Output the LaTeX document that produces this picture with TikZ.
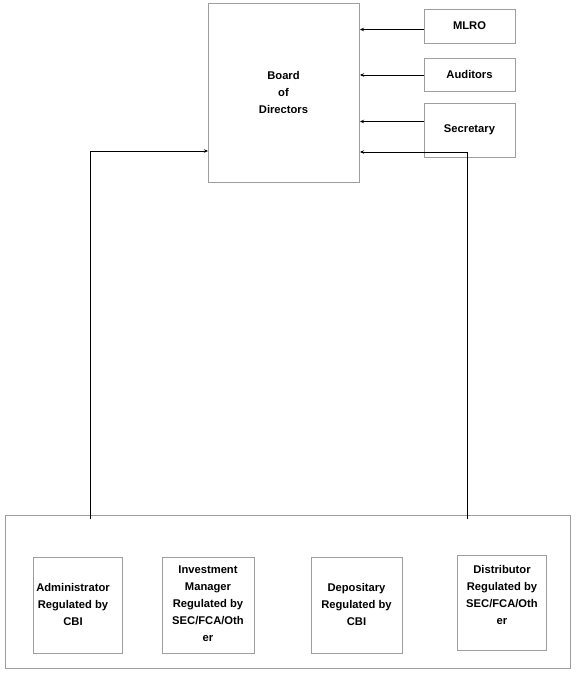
\documentclass[tikz,border=0pt]{standalone}
\usepackage{fontspec}
\setmainfont{Liberation Sans}
\usetikzlibrary{arrows.meta}
\begin{document}
\begin{tikzpicture}[x=1pt,y=-1pt,
  box/.style={draw=black!38, line width=1pt, fill=white, inner sep=0pt, align=center,
    font=\fontsize{11.2}{17}\selectfont\bfseries},
  txt/.style={inner sep=0pt, align=center, font=\fontsize{11.2}{17}\selectfont\bfseries},
  conn/.style={draw=black, line width=0.8pt},
  arr/.style={conn, -{Stealth[length=4pt,width=3.5pt]}}]
\useasboundingbox (0,0) rectangle (576,675);
% outer group box
\node[box, minimum width=565, minimum height=153, anchor=north west] (group) at (5,515) {};
% board
\node[box, minimum width=151, minimum height=179, anchor=north west] (board) at (208,3) {};
\node[txt] (boardt) at (283.5,92) {Board\\of\\Directors};
% right boxes
\node[box, minimum width=91, minimum height=34, anchor=north west] (mlro) at (424,9) {};
\node[txt] (mlrot) at (469.5,26) {MLRO};
\node[box, minimum width=91, minimum height=33, anchor=north west] (aud) at (424,58) {};
\node[txt] (audt) at (469.5,74) {Auditors};
\node[box, minimum width=91, minimum height=54, anchor=north west] (sec) at (424,103) {};
\node[txt] (sect) at (469.5,130) {Secretary};
% bottom boxes
\node[box, minimum width=89, minimum height=96, anchor=north west] (adm) at (33,557) {};
\node[txt] (admt) at (73,604) {Administrator\\Regulated by\\CBI};
\node[box, minimum width=92, minimum height=96, anchor=north west] (inv) at (162,557) {};
\node[txt] (invt) at (208,604) {Investment\\Manager\\Regulated by\\SEC/FCA/Oth\\er};
\node[box, minimum width=91, minimum height=96, anchor=north west] (dep) at (311,557) {};
\node[txt] (dept) at (356.5,604) {Depositary\\Regulated by\\CBI};
\node[box, minimum width=89, minimum height=95, anchor=north west] (dis) at (457,555) {};
\node[txt] (dist) at (502,594.5) {Distributor\\Regulated by\\SEC/FCA/Oth\\er};
% arrows from right boxes
\coordinate (m1) at ([yshift=-3pt]mlro.west);
\coordinate (a1) at (aud.west);
\coordinate (s1) at ([yshift=9pt]sec.west);
\draw[arr] (m1) -- (m1 -| board.east);
\draw[arr] (a1) -- (a1 -| board.east);
\draw[arr] (s1) -- (s1 -| board.east);
% long connectors from bottom group
\coordinate (lc) at (90,519);
\coordinate (lt) at (90,151);
\coordinate (rc) at (467,519);
\coordinate (rt) at (467,152);
\draw[arr] (lc) -- (lt) -- (lt -| board.west);
\draw[arr] (rc) -- (rt) -- (rt -| board.east);
\end{tikzpicture}
\end{document}
